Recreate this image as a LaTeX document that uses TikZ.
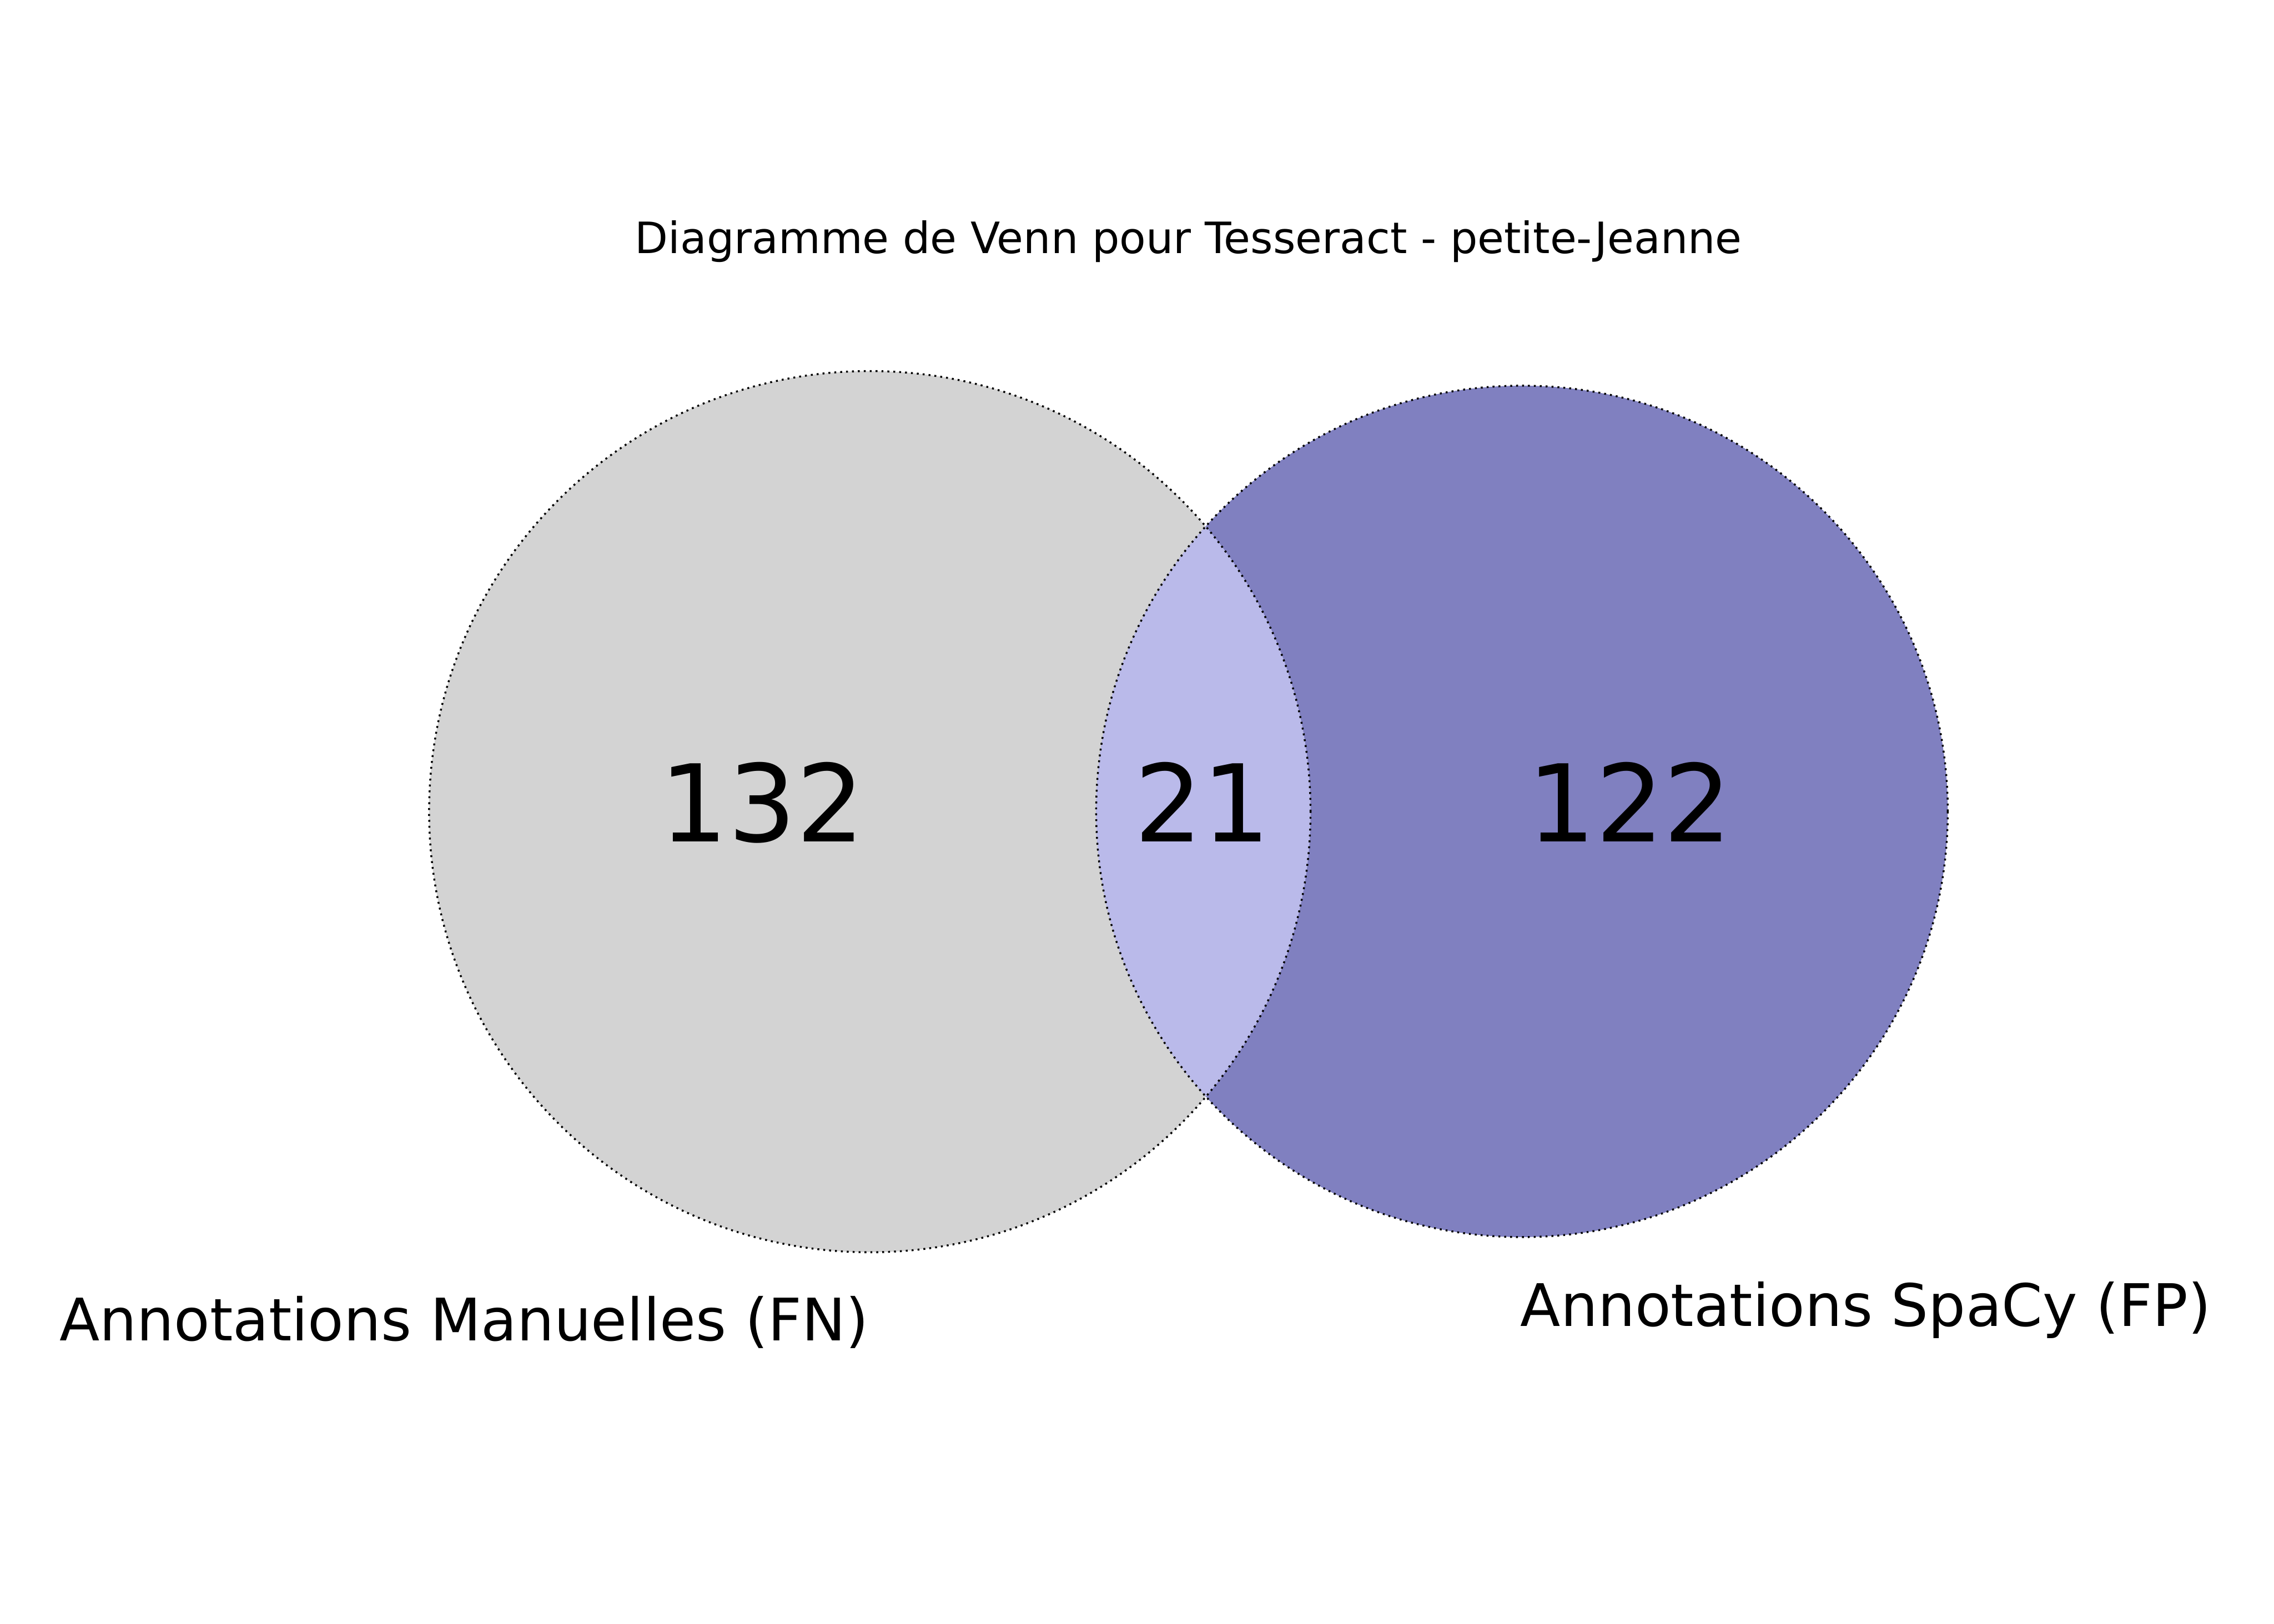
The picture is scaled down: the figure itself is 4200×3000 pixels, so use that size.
\documentclass[tikz,border=0pt]{standalone}
\usepackage{fontspec}
\setmainfont{DejaVu Sans}
\usepackage{tikz}
\usetikzlibrary{positioning}
\definecolor{manual}{HTML}{D3D3D3}
\definecolor{spacy}{HTML}{8080C0}
\definecolor{overlap}{HTML}{BABAEA}

\begin{document}
\begin{tikzpicture}[x=0.01cm, y=-0.01cm,
  outline/.style={draw=black, line width=1pt, dash pattern=on 1pt off 2.1pt},
  count/.style={anchor=base, inner sep=0pt, font=\fontsize{56.3}{60}\selectfont},
  setlabel/.style={anchor=base, inner sep=0pt, font=\fontsize{30.8}{34}\selectfont}]
  \useasboundingbox (0,0) rectangle (4200,3000);
  \coordinate (manC) at (1606.5,1499.5);
  \coordinate (spaC) at (2811,1499);
  % set areas
  \fill[manual] (manC) circle[radius=8.135cm];
  \fill[spacy] (spaC) circle[radius=7.86cm];
  \begin{scope}
    \clip (manC) circle[radius=8.135cm];
    \fill[overlap] (spaC) circle[radius=7.86cm];
  \end{scope}
  \draw[outline] (manC) circle[radius=8.135cm];
  \draw[outline] (spaC) circle[radius=7.86cm];
  % texts
  \node[anchor=base, inner sep=0pt, font=\fontsize{22.7}{26}\selectfont] (title) at (2195,468)
    {Diagramme de Venn pour Tesseract - petite-Jeanne};
  \foreach \x/\val/\nm in {1408/132/nMan, 2221/21/nBoth, 3010/122/nSpa} {
    \node[count] (\nm) at (\x,1555) {\val};
  }
  \node[setlabel] (labMan) at (857,2477) {Annotations Manuelles (FN)};
  \node[setlabel] (labSpa) at (3446,2450) {Annotations SpaCy (FP)};
\end{tikzpicture}
\end{document}
